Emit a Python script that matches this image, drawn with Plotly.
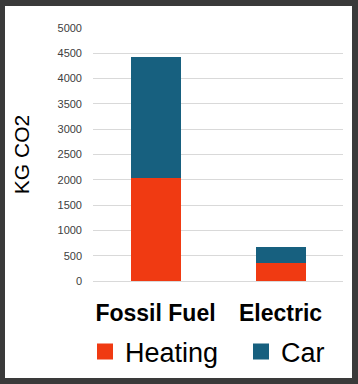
import plotly.graph_objects as go

categories = ["Fossil Fuel", "Electric"]
heating = [2030, 360]
car = [2400, 310]
series_names = ["Heating", "Car"]
colors = ["#F03A12", "#17607F"]
y_ticks = [0, 500, 1000, 1500, 2000, 2500, 3000, 3500, 4000, 4500, 5000]

fig = go.Figure()
for name, vals, col in zip(series_names, [heating, car], colors):
    fig.add_trace(go.Bar(x=categories, y=vals, name=name, marker_color=col,
                         marker_line_width=0, showlegend=False))
for name, col, lg in zip(series_names, colors, ["legend", "legend2"]):
    fig.add_trace(go.Scatter(x=[None], y=[None], mode="markers", name=name,
                             legend=lg,
                             marker=dict(symbol="square", size=17, color=col)))

legend_common = dict(orientation="h", xanchor="left", yanchor="middle",
                     y=(281 - 352) / 253,
                     font=dict(size=27, color="#000000"),
                     bgcolor="rgba(0,0,0,0)", borderwidth=0)

fig.update_layout(
    width=358, height=384,
    margin=dict(l=93, r=15, t=28, b=103, autoexpand=False),
    paper_bgcolor="#3a3a3a",
    plot_bgcolor="white",
    barmode="stack",
    bargap=0.6,
    font=dict(family="Liberation Sans, Arial, sans-serif", color="#000000"),
    shapes=[dict(type="rect", xref="paper", yref="paper",
                 x0=(5 - 93) / 250, x1=(352 - 93) / 250,
                 y0=(281 - 378) / 253, y1=(281 - 6) / 253,
                 fillcolor="white", line_width=0, layer="below")],
    legend=dict(x=(85 - 93) / 250, **legend_common),
    legend2=dict(x=(241 - 93) / 250, **legend_common),
)
fig.update_xaxes(showgrid=False, showline=False, zeroline=False,
                 tickfont=dict(size=23, color="#000000",
                               family="Liberation Sans, Arial, sans-serif", weight="bold"),
                 ticklabelstandoff=16)
fig.update_yaxes(range=[0, 5000], tickvals=y_ticks, showgrid=True,
                 gridcolor="#d9d9d9", gridwidth=1, zeroline=True,
                 zerolinecolor="#d9d9d9", zerolinewidth=1,
                 tickfont=dict(size=11, color="#404040"),
                 ticklabelstandoff=10,
                 title=dict(text="KG CO2", font=dict(size=21, color="#000000"),
                            standoff=22))

fig.write_html("out.html", config={"displayModeBar": False},
               post_script="document.body.style.margin='0';document.body.style.padding='0';")
